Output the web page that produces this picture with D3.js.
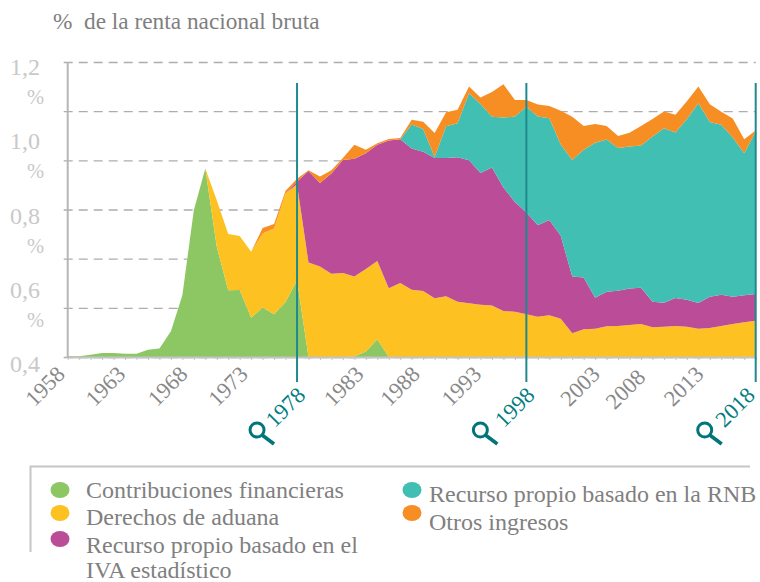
<!DOCTYPE html>
<html lang="es">
<head>
    <meta charset="UTF-8">
    <title>% de la renta nacional bruta</title>
    <script src="https://d3js.org/d3.v7.min.js"></script>
    <style>
        body {
            margin: 0;
            background-color: #fff;
            font-family: "Liberation Serif", serif;
        }
        svg {
            display: block;
        }
    </style>
</head>
<body>
    <svg width="760" height="582"></svg>
    <script>
        const years = d3.range(1958, 2019);
        const contribuciones = [
            0.003, 0.003, 0.009, 0.016, 0.016, 0.013, 0.013, 0.029, 0.035, 0.105,
            0.251, 0.597, 0.767, 0.448, 0.272, 0.273, 0.160, 0.201, 0.174, 0.224,
            0.312, 0, 0, 0, 0, 0.002, 0.022, 0.072, 0, 0,
            0, 0, 0, 0, 0, 0, 0, 0, 0, 0,
            0, 0, 0, 0, 0, 0, 0, 0, 0, 0,
            0, 0, 0, 0, 0, 0, 0, 0, 0, 0, 0
        ];
        const aduana = [
            0, 0, 0, 0, 0, 0, 0, 0, 0, 0,
            0, 0, 0, 0.190, 0.228, 0.219, 0.268, 0.301, 0.349, 0.441,
            0.391, 0.384, 0.368, 0.339, 0.342, 0.325, 0.336, 0.319, 0.280, 0.301,
            0.274, 0.268, 0.239, 0.247, 0.225, 0.219, 0.213, 0.209, 0.187, 0.184,
            0.174, 0.164, 0.170, 0.156, 0.097, 0.113, 0.115, 0.125, 0.126, 0.130,
            0.134, 0.121, 0.123, 0.126, 0.123, 0.115, 0.118, 0.126, 0.134, 0.141, 0.147
        ];
        const iva = [
            0, 0, 0, 0, 0, 0, 0, 0, 0, 0,
            0, 0, 0, 0, 0, 0, 0, 0, 0, 0,
            0.011, 0.373, 0.340, 0.407, 0.459, 0.479, 0.471, 0.472, 0.601, 0.585,
            0.574, 0.567, 0.571, 0.562, 0.588, 0.581, 0.535, 0.562, 0.502, 0.447,
            0.414, 0.372, 0.387, 0.337, 0.230, 0.210, 0.126, 0.140, 0.143, 0.149,
            0.148, 0.104, 0.098, 0.114, 0.110, 0.105, 0.127, 0.127, 0.111, 0.110, 0.109
        ];
        const rnb = [
            0, 0, 0, 0, 0, 0, 0, 0, 0, 0,
            0, 0, 0, 0, 0, 0, 0, 0, 0, 0,
            0, 0, 0, 0, 0, 0, 0, 0, 0, 0,
            0.098, 0.092, 0.004, 0.130, 0.138, 0.273, 0.281, 0.206, 0.285, 0.347,
            0.430, 0.442, 0.414, 0.371, 0.474, 0.520, 0.631, 0.620, 0.581, 0.577,
            0.578, 0.672, 0.710, 0.673, 0.735, 0.812, 0.711, 0.692, 0.648, 0.578, 0.661
        ];
        const otros = [
            0, 0, 0, 0, 0, 0, 0, 0, 0, 0,
            0, 0, 0, 0, 0, 0, 0, 0.023, 0.018, 0.011,
            0.011, 0.003, 0.026, 0.014, 0.008, 0.057, 0.014, 0.007, 0.006, 0.005,
            0.019, 0.030, 0.097, 0.057, 0.055, 0.027, 0.027, 0.101, 0.136, 0.067,
            0.027, 0.049, 0.050, 0.138, 0.176, 0.097, 0.076, 0.055, 0.049, 0.056,
            0.080, 0.071, 0.068, 0.072, 0.072, 0.068, 0.072, 0.053, 0.077, 0.057, 0.004
        ];

        const gridValues = [0, 0.2, 0.4, 0.6, 0.8, 1.0, 1.2];
        const yLabels = ["1,2", "1,0", "0,8", "0,6", "0,4"];
        const labelYears = [1958, 1963, 1968, 1973, 1983, 1988, 1993, 2003, 2008, 2013];
        const markerYears = [1978, 1998, 2018];
        const seriesNames = ["contribuciones", "aduana", "iva", "rnb", "otros"];
        const seriesValues = [contribuciones, aduana, iva, rnb, otros];
        const colors = ["#8cc764", "#fdc121", "#bb4d98", "#42bfb3", "#f78e24"];

        // the year labels don't sit evenly under their ticks in the original
        const labelShift = {
            1958: 0, 1963: 3, 1968: 8, 1973: 11, 1983: 12, 1988: 11,
            1993: 15, 2003: 19, 2008: 7, 2013: 8
        };
        const markerShift = { 1978: 11, 1998: 11, 2018: 2 };
        const lensShift = { 1978: -40, 1998: -46, 2018: -51 };

        const svg = d3.select("svg");
        const plot = { left: 67.7, right: 755.7, top: 62, bottom: 357 };

        const x = d3.scaleLinear().domain([1958, 2018]).range([plot.left, plot.right]);
        const y = d3.scaleLinear().domain([0, 1.2]).range([plot.bottom, plot.top]);
        const yLabelPos = d3.scalePoint().domain(yLabels).range([67, 364]);

        const rows = years.map((year, i) => {
            const row = { year };
            seriesNames.forEach((name, s) => row[name] = seriesValues[s][i]);
            return row;
        });
        const stacked = d3.stack().keys(seriesNames)(rows);

        const grid = svg.append("g")
            .attr("transform", `translate(${plot.left},0)`)
            .call(d3.axisLeft(y).tickValues(gridValues).tickFormat("").tickSize(-(plot.right - plot.left)).tickSizeOuter(0));
        grid.select(".domain").remove();
        grid.selectAll("line")
            .attr("x1", -4)
            .attr("stroke", "#adadad")
            .attr("stroke-width", 1.3)
            .attr("stroke-dasharray", "9 6");

        const area = d3.area()
            .x(d => x(d.data.year))
            .y0(d => y(d[0]))
            .y1(d => y(d[1]));

        svg.append("g")
            .selectAll("path")
            .data(stacked)
            .join("path")
            .attr("fill", (d, i) => colors[i])
            .attr("d", area);

        const xAxis = svg.append("g")
            .attr("transform", `translate(0,${plot.bottom})`)
            .call(d3.axisBottom(x).tickValues(years).tickFormat("").tickSize(3).tickSizeOuter(0));
        xAxis.select(".domain").attr("stroke", "#c4c4c4").attr("stroke-width", 2);
        xAxis.selectAll("line").attr("stroke", "#c4c4c4");

        svg.append("line")
            .attr("x1", plot.left).attr("x2", plot.left)
            .attr("y1", plot.top).attr("y2", plot.bottom + 1)
            .attr("stroke", "#b5b5ba")
            .attr("stroke-width", 2);

        svg.append("g")
            .selectAll("text")
            .data(yLabels)
            .join("text")
            .attr("x", 40)
            .attr("y", d => yLabelPos(d) + 8)
            .attr("text-anchor", "end")
            .attr("font-size", 24)
            .attr("fill", "#c9c9c9")
            .text(d => d);

        svg.append("g")
            .selectAll("text")
            .data(yLabels.slice(0, -1))
            .join("text")
            .attr("x", 44)
            .attr("y", d => yLabelPos(d) + 37)
            .attr("text-anchor", "end")
            .attr("font-size", 20.5)
            .attr("fill", "#c9c9c9")
            .text("%");

        svg.append("g")
            .selectAll("text")
            .data(labelYears)
            .join("text")
            .attr("transform", d => `translate(${x(d) + labelShift[d] - 7},${d === 2008 ? 373 : 370}) rotate(-45)`)
            .attr("text-anchor", "end")
            .attr("dy", "0.35em")
            .attr("font-size", 22.5)
            .attr("fill", "#888")
            .text(d => d);

        const markers = svg.append("g")
            .selectAll("g")
            .data(markerYears)
            .join("g");

        markers.append("line")
            .attr("x1", d => x(d)).attr("x2", d => x(d))
            .attr("y1", 83).attr("y2", 382)
            .attr("stroke", "#1f8a8e")
            .attr("stroke-width", 2);

        markers.append("text")
            .attr("transform", d => `translate(${x(d) + markerShift[d] - 7},391) rotate(-45)`)
            .attr("text-anchor", "end")
            .attr("dy", "0.35em")
            .attr("font-size", 22.5)
            .attr("fill", "#007d82")
            .text(d => d);

        const lens = markers.append("g")
            .attr("transform", d => `translate(${x(d) + lensShift[d]},430)`)
            .attr("fill", "none")
            .attr("stroke", "#00767b");
        lens.append("circle")
            .attr("r", 7)
            .attr("stroke-width", 3);
        lens.append("line")
            .attr("x1", 5).attr("y1", 5)
            .attr("x2", 17).attr("y2", 14)
            .attr("stroke-width", 3.6);

        svg.append("text")
            .attr("x", 53)
            .attr("y", 29)
            .attr("font-size", 23.3)
            .attr("fill", "#7f7f7f")
            .attr("xml:space", "preserve")
            .text("%  de la renta nacional bruta");

        svg.append("path")
            .attr("d", "M30.5,552V466.5H750")
            .attr("fill", "none")
            .attr("stroke", "#c6c6c6")
            .attr("stroke-width", 2);

        const legendLeft = [
            { color: colors[0], dotY: 490, lines: [["Contribuciones financieras", 498]] },
            { color: colors[1], dotY: 513, lines: [["Derechos de aduana", 525]] },
            { color: colors[2], dotY: 539, lines: [["Recurso propio basado en el", 553], ["IVA estadístico", 578]] }
        ];
        const legendRight = [
            { color: colors[3], dotY: 490, lines: [["Recurso propio basado en la RNB", 502]] },
            { color: colors[4], dotY: 513, lines: [["Otros ingresos", 530]] }
        ];

        function drawLegend(items, dotX, textX) {
            items.forEach(item => {
                svg.append("ellipse")
                    .attr("cx", dotX)
                    .attr("cy", item.dotY)
                    .attr("rx", 9.5)
                    .attr("ry", 8)
                    .attr("fill", item.color);
                item.lines.forEach(([label, baseline]) => {
                    svg.append("text")
                        .attr("x", textX)
                        .attr("y", baseline)
                        .attr("font-size", 24)
                        .attr("fill", "#808080")
                        .text(label);
                });
            });
        }

        drawLegend(legendLeft, 60, 86);
        drawLegend(legendRight, 412, 429);
    </script>
</body>
</html>
